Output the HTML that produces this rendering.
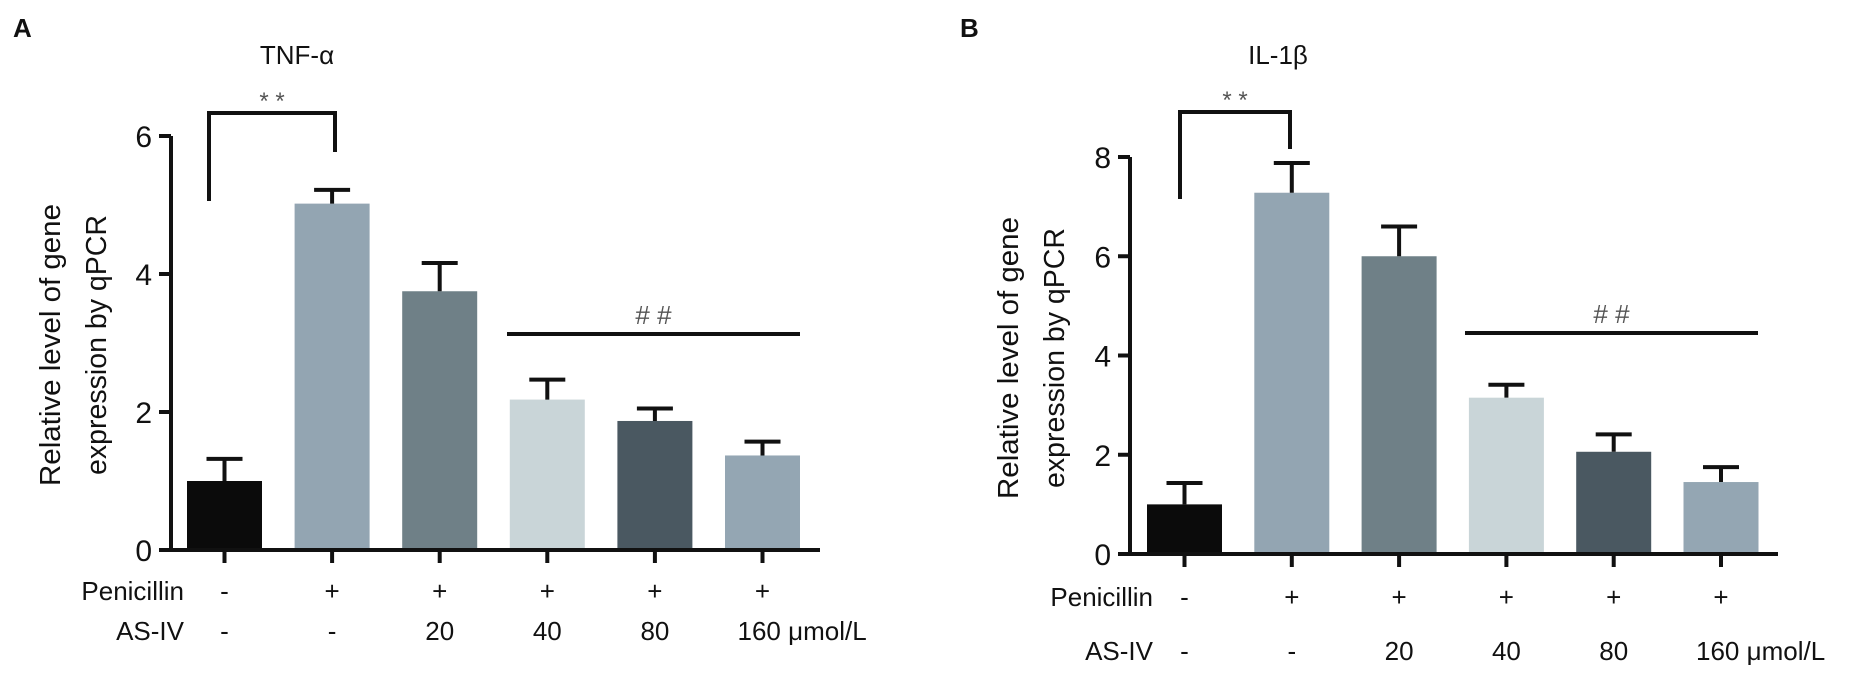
<!DOCTYPE html>
<html><head><meta charset="utf-8"><style>
html,body{margin:0;padding:0;background:#fff;width:1851px;height:675px;overflow:hidden}
svg{display:block;font-family:"Liberation Sans",Arial,sans-serif}
</style></head><body>
<svg id="fig" width="1851" height="675" viewBox="0 0 1851 675" xmlns="http://www.w3.org/2000/svg"></svg>
<script>
const categories = ["Control","Penicillin","AS-IV 20","AS-IV 40","AS-IV 80","AS-IV 160"];
const penicillinLabels = ["-","+","+","+","+","+"];
const asivLabels = ["-","-","20","40","80","160 μmol/L"];
const tnfValues = [1.0, 5.02, 3.75, 2.18, 1.87, 1.37];
const tnfErrors = [0.32, 0.2, 0.41, 0.29, 0.18, 0.2];
const ilValues = [1.0, 7.28, 6.0, 3.15, 2.06, 1.45];
const ilErrors = [0.43, 0.6, 0.6, 0.26, 0.35, 0.3];
const tnfTicks = [0,2,4,6];
const ilTicks = [0,2,4,6,8];
const barColors = ["#0b0b0b","#93a5b2","#6f8087","#c9d5d8","#4a5861","#94a6b3"];

const NS="http://www.w3.org/2000/svg";
const svg=document.getElementById('fig');
function mk(tag,attrs,parent){const e=document.createElementNS(NS,tag);for(const k in attrs)e.setAttribute(k,attrs[k]);(parent||svg).appendChild(e);return e;}
function txt(s,attrs,parent){const e=mk('text',attrs,parent);e.textContent=s;return e;}

function panel(cfg){
  const g=mk('g',{});
  
  
  const y=v=>cfg.y0-(v/cfg.ymax)*(cfg.y0-cfg.ytop);
  const xc=i=>cfg.x1+cfg.bw/2+i*cfg.step;
  const L=txt(cfg.letter,{x:cfg.letterX,y:37,'font-size':26,'font-weight':'bold',fill:'#111'},g);
  
  
  const T=txt(cfg.title,{x:cfg.titleX,y:64,'font-size':26,'text-anchor':'middle',fill:'#111'},g);
  
  
  const yt=mk('g',{transform:`translate(${cfg.ytX},${cfg.ytY}) rotate(-90)`},g);
  
  
  txt('Relative level of gene',{x:0,y:0,'font-size':29,'text-anchor':'middle',fill:'#111',textLength:282,lengthAdjust:'spacingAndGlyphs'},yt);
  txt('expression by qPCR',{x:0,y:46,'font-size':29,'text-anchor':'middle',fill:'#111',textLength:260,lengthAdjust:'spacingAndGlyphs'},yt);
  cfg.values.forEach((v,i)=>{
    const r=mk('rect',{x:xc(i)-cfg.bw/2,y:y(v),width:cfg.bw,height:cfg.y0-y(v),fill:barColors[i]},g);
    
    
    const e=mk('path',{d:`M${xc(i)},${y(v)} V${y(v+cfg.errors[i])} M${xc(i)-18},${y(v+cfg.errors[i])} H${xc(i)+18}`,stroke:'#111','stroke-width':4,fill:'none'},g);
    
    
  });
  const ax=mk('path',{d:`M${cfg.ax},${y(cfg.ymax)} V${cfg.y0} H${cfg.axEnd}`,stroke:'#111','stroke-width':4,fill:'none'},g);
  
  
  cfg.ticks.forEach(t=>{
    mk('line',{x1:cfg.ax-12,x2:cfg.ax,y1:y(t),y2:y(t),stroke:'#111','stroke-width':4},g);
    const tl=txt(String(t),{x:cfg.ax-19,y:y(t)+11,'font-size':30,'text-anchor':'end',fill:'#111'},g);
    
    
  });
  categories.forEach((c,i)=>{
    mk('line',{x1:xc(i),x2:xc(i),y1:cfg.y0,y2:cfg.y0+13,stroke:'#111','stroke-width':4},g);
    const p=txt(penicillinLabels[i],{x:xc(i),y:cfg.row1+10,'font-size':26,'text-anchor':'middle',fill:'#111'},g);
    
    
    const lbl=asivLabels[i];
    const a=txt(lbl,{x:i===5?xc(i)-25:xc(i),y:cfg.row2+10,'font-size':26,'text-anchor':i===5?'start':'middle',fill:'#111'},g);
    
    
  });
  const pr=txt('Penicillin',{x:cfg.rowLabelX,y:cfg.row1+10,'font-size':26,'text-anchor':'end',fill:'#111'},g);
  
  
  const ar=txt('AS-IV',{x:cfg.rowLabelX,y:cfg.row2+10,'font-size':26,'text-anchor':'end',fill:'#111'},g);
  
  
  const br=mk('path',{d:`M${cfg.brL},${cfg.brLb} V${cfg.brTop} H${cfg.brR} V${cfg.brRb}`,stroke:'#111','stroke-width':4,fill:'none'},g);
  
  
  const st=txt('*  *',{x:(cfg.brL+cfg.brR)/2,y:cfg.brTop-4,'font-size':24,'text-anchor':'middle',fill:'#555'},g);
  
  
  const hl=mk('line',{x1:cfg.hL,x2:cfg.hR,y1:cfg.hY,y2:cfg.hY,stroke:'#111','stroke-width':4},g);
  
  
  const hs=txt('#  #',{x:(cfg.hL+cfg.hR)/2,y:cfg.hY-10,'font-size':26,'text-anchor':'middle',fill:'#555'},g);
  
  
}

panel({name:'panel-a-tnf',letter:'A',letterX:13,title:'TNF-α',titleX:297,values:tnfValues,errors:tnfErrors,ticks:tnfTicks,ymax:6,
  y0:550,ytop:136,ax:171,axEnd:820,x1:187,bw:75,step:107.6,ytX:60,ytY:345,row1:590,row2:630,rowLabelX:184,
  brL:209,brLb:201,brTop:113,brR:335,brRb:152,hL:507,hR:800,hY:334});
panel({name:'panel-b-il1b',letter:'B',letterX:960,title:'IL-1β',titleX:1278,values:ilValues,errors:ilErrors,ticks:ilTicks,ymax:8,
  y0:554,ytop:157,ax:1130,axEnd:1778,x1:1147,bw:75,step:107.3,ytX:1018,ytY:358,row1:596,row2:650,rowLabelX:1153,
  brL:1180,brLb:199,brTop:112,brR:1290,brRb:149,hL:1465,hR:1758,hY:333});
</script>
</body></html>
